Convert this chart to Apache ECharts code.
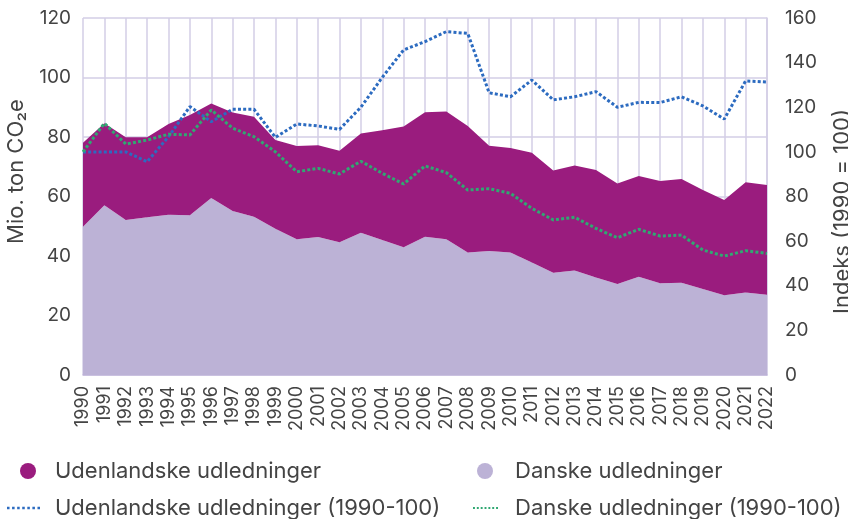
<!DOCTYPE html>
<html>
<head>
<meta charset="utf-8">
<script src="https://cdn.jsdelivr.net/npm/echarts@6/dist/echarts.min.js"></script>
<style>
  html, body { margin: 0; padding: 0; background: #fff; }
  #chart { width: 848px; height: 519px; }
</style>
</head>
<body>
<div id="chart"></div>
<script>
// år
var years = ['1990', '1991', '1992', '1993', '1994', '1995', '1996', '1997', '1998', '1999',
  '2000', '2001', '2002', '2003', '2004', '2005', '2006', '2007', '2008', '2009',
  '2010', '2011', '2012', '2013', '2014', '2015', '2016', '2017', '2018', '2019',
  '2020', '2021', '2022']

// Mio. ton CO2e
var danske = [49.8, 57.1, 52.1, 53.0, 53.9, 53.7, 59.5, 55.1, 53.2, 49.2,
  45.6, 46.4, 44.6, 47.8, 45.4, 42.9, 46.5, 45.6, 41.2, 41.7,
  41.2, 37.8, 34.4, 35.1, 32.8, 30.6, 33.0, 30.8, 31.0, 28.9,
  26.8, 27.7, 27.0]
var udenlandske = [28.3, 27.5, 27.8, 26.9, 30.5, 33.7, 31.8, 33.1, 33.6, 29.8,
  31.4, 30.8, 30.8, 33.4, 36.9, 40.6, 41.8, 43.0, 42.5, 35.4,
  35.1, 36.9, 34.3, 35.3, 36.1, 33.8, 33.9, 34.4, 34.9, 33.3,
  32.0, 37.1, 36.9]

// indeks (1990 = 100)
var udenlandskeIndeks = [100, 100, 100, 95.6, 106.8, 120.3, 113.5, 119.1, 119.1, 106.5,
  112.5, 111.6, 110.1, 120.0, 133.4, 145.7, 149.4, 153.9, 153.1, 126.5,
  124.7, 132.2, 123.3, 124.7, 127.0, 120.0, 122.2, 122.1, 124.7, 120.6,
  114.7, 131.8, 131.3]
var danskeIndeks = [100, 112.8, 103.5, 105.3, 107.9, 107.6, 118.8, 110.6, 106.8, 100,
  91.1, 92.6, 90.1, 95.8, 90.4, 85.6, 93.7, 90.7, 82.9, 83.5,
  81.4, 74.7, 69.5, 70.7, 65.7, 61.5, 65.3, 62.3, 62.7, 56.0,
  53.3, 55.7, 54.5]

var font = 'Inter, "Open Sans", sans-serif'
var textColor = '#444444'
var gridColor = '#d3cee6'

// prikket linje til legenden
var dotIcon = 'path://M0,0h2v2h-2z M4,0h2v2h-2z M8,0h2v2h-2z M12,0h2v2h-2z M16,0h2v2h-2z M20,0h2v2h-2z M24,0h2v2h-2z'

// én legende pr. punkt, så kolonnerne står som i originalen
function legendItem (name, icon, left, top, w, pad) {
  return {
    orient: 'horizontal',
    left: left,
    top: top,
    padding: 0,
    itemWidth: w,
    itemHeight: icon === 'circle' ? 16 : 3,
    textStyle: { fontSize: 22, lineHeight: 24, color: textColor, fontFamily: font, padding: [0, 0, 0, pad] },
    data: [{ name: name, icon: icon }]
  }
}

var myChart = echarts.init(document.getElementById('chart'))

var option = {
  animation: false,
  textStyle: { fontFamily: font },
  grid: { left: 83, right: 81, top: 18, bottom: 144, outerBoundsMode: 'none', containLabel: false },
  legend: [
    legendItem('Udenlandske udledninger', 'circle', 20, 459, 16, 14),
    legendItem('Udenlandske udledninger (1990-100)', dotIcon, 7, 496, 33, 10),
    legendItem('Danske udledninger', 'circle', 477, 459, 16, 17),
    legendItem('Danske udledninger (1990-100)', dotIcon, 473, 496, 25, 12)
  ],
  xAxis: {
    type: 'category',
    data: years,
    boundaryGap: false,
    axisLine: { lineStyle: { color: '#c3b9dc', width: 1.5 } },
    axisTick: { show: false },
    axisLabel: { rotate: 90, fontSize: 18, color: textColor, margin: 11, interval: 0 },
    splitLine: { show: true, interval: 0, lineStyle: { color: gridColor, width: 1.5 } }
  },
  yAxis: [
    {
      type: 'value',
      min: 0,
      max: 120,
      interval: 20,
      name: 'Mio. ton CO₂e',
      nameLocation: 'middle',
      nameRotate: 90,
      nameGap: 56,
      nameTextStyle: { fontSize: 22, color: textColor, padding: [0, 0, 0, 50] },
      axisLine: { show: false },
      axisTick: { show: false },
      axisLabel: { fontSize: 19, color: textColor, margin: 12 },
      splitLine: { lineStyle: { color: gridColor, width: 1.5 } }
    },
    {
      type: 'value',
      min: 0,
      max: 160,
      interval: 20,
      name: 'Indeks (1990 = 100)',
      nameLocation: 'middle',
      nameRotate: 90,
      nameGap: 64,
      nameTextStyle: { fontSize: 22, color: textColor, padding: [0, 30, 0, 0] },
      axisLine: { show: true, lineStyle: { color: gridColor, width: 1.5 } },
      axisTick: { show: false },
      axisLabel: { fontSize: 19, color: textColor, margin: 18 },
      splitLine: { show: false }
    }
  ],
  series: [
    {
      name: 'Danske udledninger',
      type: 'line',
      stack: 'total',
      data: danske,
      symbol: 'none',
      lineStyle: { width: 0 },
      itemStyle: { color: '#bcb2d6' },
      areaStyle: { color: '#bcb2d6', opacity: 1 },
      z: 2
    },
    {
      name: 'Udenlandske udledninger',
      type: 'line',
      stack: 'total',
      data: udenlandske,
      symbol: 'none',
      lineStyle: { width: 0 },
      itemStyle: { color: '#9a1c7e' },
      areaStyle: { color: '#9a1c7e', opacity: 1 },
      z: 2
    },
    {
      name: 'Udenlandske udledninger (1990-100)',
      type: 'line',
      yAxisIndex: 1,
      data: udenlandskeIndeks,
      symbol: 'none',
      itemStyle: { color: '#2c6bc0' },
      lineStyle: { color: '#2c6bc0', width: 3, type: [3, 2.2] },
      z: 4
    },
    {
      name: 'Danske udledninger (1990-100)',
      type: 'line',
      yAxisIndex: 1,
      data: danskeIndeks,
      symbol: 'none',
      itemStyle: { color: '#30a872' },
      lineStyle: { color: '#30a872', width: 3, type: [3, 2.2] },
      z: 4
    }
  ]
}

myChart.setOption(option)
</script>
</body>
</html>
